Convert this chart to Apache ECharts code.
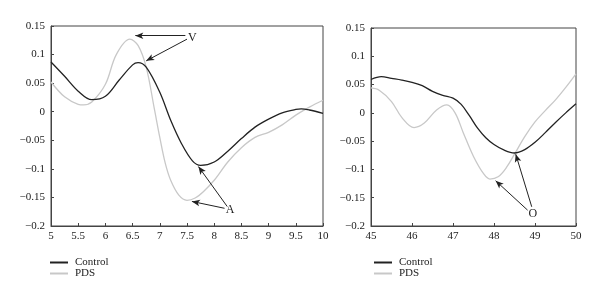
<!DOCTYPE html>
<html>
<head>
<meta charset="utf-8">
<script src="https://cdn.jsdelivr.net/npm/echarts@6/dist/echarts.min.js"></script>
<style>
  html, body { margin: 0; padding: 0; background: #fff; }
  #main { width: 600px; height: 301px; }
</style>
</head>
<body>
<div id="main"></div>
<script>
// data
var yTicks = [-0.2, 0.15, 0.05];  // min, max, step

var leftControl = [[5.0,0.087],[5.25,0.062],[5.5,0.036],[5.75,0.021],[6.0,0.027],[6.25,0.055],[6.5,0.082],[6.6,0.086],[6.75,0.078],[7.0,0.034],[7.2,-0.015],[7.4,-0.056],[7.6,-0.086],[7.75,-0.094],[8.0,-0.088],[8.25,-0.069],[8.5,-0.047],[8.75,-0.027],[9.0,-0.013],[9.25,-0.002],[9.5,0.004],[9.6,0.005],[9.75,0.003],[10.0,-0.003]];
var leftPDS = [[5.0,0.052],[5.25,0.026],[5.5,0.013],[5.6,0.012],[5.75,0.017],[6.0,0.048],[6.2,0.1],[6.45,0.127],[6.6,0.116],[6.75,0.078],[6.9,0.005],[7.0,-0.045],[7.1,-0.09],[7.2,-0.12],[7.35,-0.146],[7.5,-0.155],[7.65,-0.151],[7.8,-0.14],[8.0,-0.12],[8.25,-0.088],[8.5,-0.063],[8.75,-0.045],[9.0,-0.036],[9.25,-0.023],[9.5,-0.006],[9.75,0.008],[10.0,0.020]];

var rightControl = [[45,0.059],[45.25,0.064],[45.5,0.061],[45.75,0.058],[46,0.054],[46.25,0.048],[46.5,0.038],[46.75,0.031],[47,0.026],[47.2,0.015],[47.4,-0.005],[47.6,-0.027],[47.8,-0.044],[48,-0.056],[48.25,-0.066],[48.5,-0.071],[48.75,-0.065],[49,-0.052],[49.25,-0.035],[49.5,-0.017],[49.75,0.0],[50,0.016]];
var rightPDS = [[45,0.044],[45.2,0.04],[45.5,0.02],[45.75,-0.008],[46.05,-0.026],[46.3,-0.018],[46.6,0.005],[46.85,0.014],[47.05,0.0],[47.25,-0.035],[47.5,-0.077],[47.75,-0.108],[47.9,-0.117],[48.1,-0.113],[48.3,-0.097],[48.5,-0.073],[48.75,-0.042],[49,-0.016],[49.25,0.004],[49.5,0.023],[49.75,0.045],[50,0.069]];

// annotation arrows: [from, to] in data units, and their letters
var leftArrows = [[[7.47,0.133],[6.55,0.133]], [[7.50,0.127],[6.75,0.089]], [[8.19,-0.169],[7.59,-0.157]], [[8.24,-0.166],[7.71,-0.096]]];
var leftNotes = [[7.60,0.130,'V'], [8.29,-0.172,'A']];
var rightArrows = [[[48.82,-0.172],[48.04,-0.120]], [[48.92,-0.166],[48.53,-0.073]]];
var rightNotes = [[48.95,-0.178,'O']];

var dark = '#222';
var light = '#c8c8c8';
var font = 'Liberation Serif';

function arrowLines(list) {
    return list.map(function (a) {
        return [{ coord: a[0], symbol: 'none' }, { coord: a[1], symbol: 'arrow' }];
    });
}
function notePoints(list) {
    return list.map(function (n) {
        return { coord: [n[0], n[1]], value: n[2] };
    });
}

var axisText = { color: '#222', fontFamily: font, fontSize: 11 };

function xAxisFor(idx, min, max, step) {
    return {
        type: 'value', gridIndex: idx, min: min, max: max, interval: step,
        axisLine: { onZero: false, lineStyle: { color: '#444', width: 1 } },
        axisTick: { inside: true, length: 3, lineStyle: { color: '#444' } },
        axisLabel: Object.assign({ margin: 5 }, axisText),
        splitLine: { show: false }
    };
}
function yAxisFor(idx) {
    return {
        type: 'value', gridIndex: idx, min: yTicks[0], max: yTicks[1], interval: yTicks[2],
        axisLine: { show: true, onZero: false, lineStyle: { color: '#444', width: 1 } },
        axisTick: { show: true, inside: true, length: 3, lineStyle: { color: '#444' } },
        axisLabel: Object.assign({
            margin: 6,
            formatter: function (v) { return String(+v.toFixed(2)).replace('-', '\u2212'); }
        }, axisText),
        splitLine: { show: false }
    };
}

function lineSeries(name, idx, data, color, extra) {
    return Object.assign({
        name: name, type: 'line', xAxisIndex: idx, yAxisIndex: idx,
        data: data, smooth: 0.35, showSymbol: false, symbol: 'none',
        lineStyle: { color: color, width: 1.3 }, itemStyle: { color: color },
        silent: true
    }, extra || {});
}

function notes(arrows, pts) {
    return {
        markLine: {
            silent: true, symbolSize: [5, 8],
            lineStyle: { color: dark, width: 1, type: 'solid' },
            label: { show: false },
            data: arrowLines(arrows)
        },
        markPoint: {
            silent: true, symbol: 'rect', symbolSize: 1,
            itemStyle: { color: 'transparent' },
            label: { show: true, position: 'inside', formatter: '{c}', color: dark, fontFamily: font, fontSize: 12 },
            data: notePoints(pts)
        }
    };
}

function legendAt(left, top) {
    return {
        left: left, top: top, orient: 'vertical', icon: 'rect',
        itemWidth: 18, itemHeight: 2, itemGap: 0,
        data: ['Control', 'PDS'],
        textStyle: { color: '#222', fontFamily: font, fontSize: 11, padding: [0, 0, 0, 2] },
        selectedMode: false
    };
}

var myChart = echarts.init(document.getElementById('main'));
var option = {
    animation: false,
    backgroundColor: '#fff',
    legend: [legendAt(45, 252), legendAt(369, 252)],
    grid: [
        { left: 51, right: 277, top: 26, bottom: 75, show: true, borderColor: '#444', borderWidth: 1 },
        { left: 371, right: 24, top: 28, bottom: 75, show: true, borderColor: '#444', borderWidth: 1 }
    ],
    xAxis: [xAxisFor(0, 5, 10, 0.5), xAxisFor(1, 45, 50, 1)],
    yAxis: [yAxisFor(0), yAxisFor(1)],
    series: [
        lineSeries('PDS', 0, leftPDS, light),
        lineSeries('Control', 0, leftControl, dark, notes(leftArrows, leftNotes)),
        lineSeries('PDS', 1, rightPDS, light),
        lineSeries('Control', 1, rightControl, dark, notes(rightArrows, rightNotes))
    ]
};
myChart.setOption(option);
</script>
</body>
</html>
